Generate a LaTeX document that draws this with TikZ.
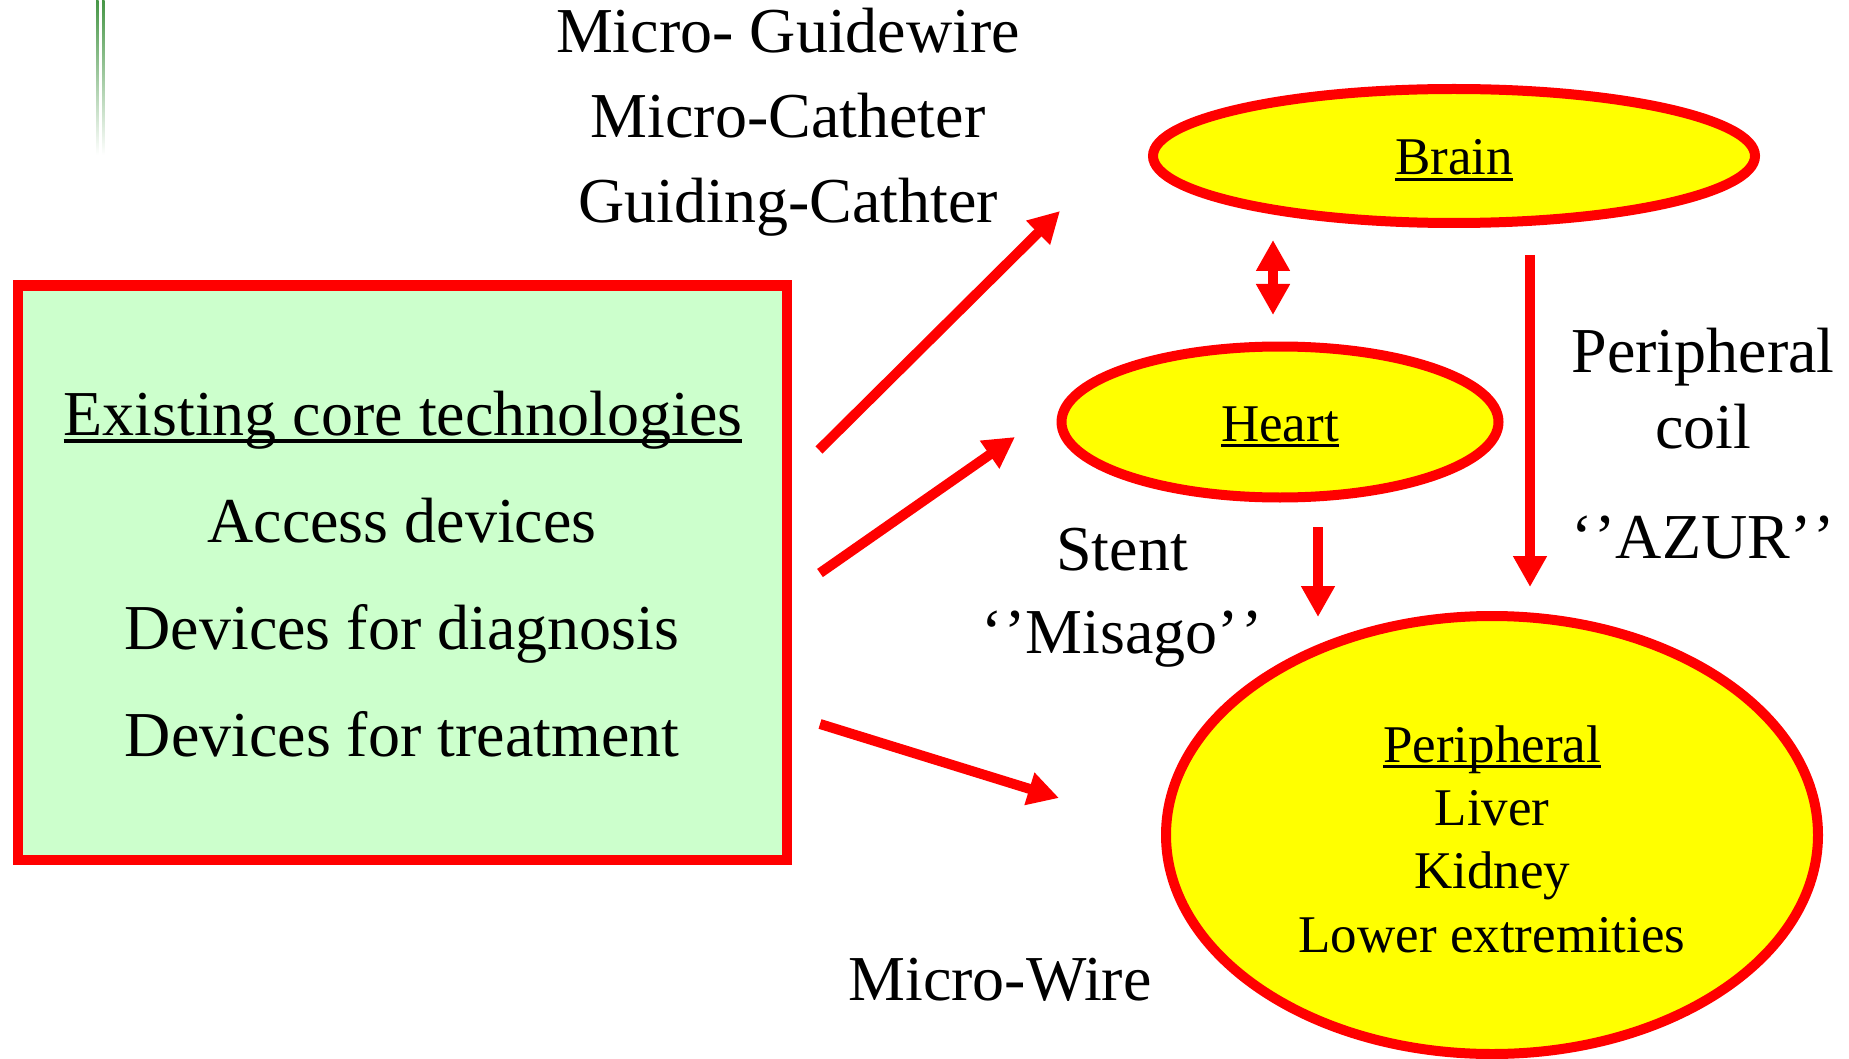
\documentclass[tikz,border=0pt]{standalone}
\usepackage{fontspec}
\setmainfont{Liberation Serif}
\usetikzlibrary{arrows.meta,shapes.geometric}
\definecolor{rd}{RGB}{255,0,0}
\definecolor{yl}{RGB}{255,255,0}
\definecolor{pg}{RGB}{204,255,204}
\definecolor{lg}{RGB}{70,150,70}
\newcommand\ulx[1]{\setbox0\hbox{#1}\rlap{\rule[-0.12em]{\wd0}{0.055em}}\box0}
\newcommand\qo{‘\kern0.03em’}
\newcommand\qc{’\kern0.03em’}
\begin{document}
\begin{tikzpicture}[x=1pt,y=-1pt,
  every node/.style={inner sep=0pt, outer sep=0pt},
  big/.style={font=\fontsize{64}{77}\selectfont, anchor=base},
  small/.style={font=\fontsize{53}{64}\selectfont, anchor=base},
  organ/.style={ellipse, draw=rd, fill=yl, line width=10pt, inner sep=0pt},
  corebox/.style={rectangle, draw=rd, fill=pg, line width=10pt},
  arr/.style={draw=rd, line width=10pt, -{Triangle[length=31pt,width=32pt]}},
  darr/.style={draw=rd, line width=10pt, {Triangle[length=31pt,width=32pt]}-{Triangle[length=31pt,width=32pt]}},
]
\useasboundingbox (0,0) rectangle (1849,1059);
\fill[white] (0,0) rectangle (1849,1059);
% decorative green lines
\shade[top color=lg, bottom color=white] (96,0) rectangle (98.5,155);
\shade[top color=lg, bottom color=white] (102,0) rectangle (104.5,155);

% core box
\node[corebox, minimum width=769pt, minimum height=574pt] (core) at (402,572.5) {};
\node[big] (t1) at (403,435) {\ulx{Existing core technologies}};
\node[big] (t2) at (402,542) {Access devices};
\node[big] (t3) at (402,649) {Devices for diagnosis};
\node[big] (t4) at (402,756) {Devices for treatment};

% top labels
\node[big] (g1) at (788,53) {Micro- Guidewire};
\node[big] (g2) at (788,138) {Micro-Catheter};
\node[big] (g3) at (788,223) {Guiding-Cathter};

% ellipses
\node[organ, minimum width=602pt, minimum height=134pt] (brain) at (1454,156) {};
\node[small] (brainlbl) at (1454,175) {\ulx{Brain}};
\node[organ, minimum width=437pt, minimum height=151pt] (heart) at (1280,422) {};
\node[small] (heartlbl) at (1280,441) {\ulx{Heart}};
\node[organ, minimum width=652pt, minimum height=438pt] (periph) at (1492,835) {};
\node[small] (p1) at (1492,762) {\ulx{Peripheral}};
\node[small] (p2) at (1492,825) {Liver};
\node[small] (p3) at (1492,888) {Kidney};
\node[small] (p4) at (1492,952) {Lower extremities};

% side labels
\node[big] (c1) at (1703,372) {Peripheral};
\node[big] (c2) at (1703,448) {coil};
\node[big] (c3) at (1703,558) {\qo AZUR\qc};
\node[big] (s1) at (1122,570) {Stent};
\node[big] (s2) at (1122,653) {\qo Misago\qc};
\node[big] (mw) at (1000,1000) {Micro-Wire};

% arrow end points
\coordinate (a1s) at (819,450);
\coordinate (a1e) at (1060,211);
\coordinate (a2s) at (820,573);
\coordinate (a2e) at (1015,437);
\coordinate (a3s) at (820,724);
\coordinate (a3e) at (1059,798);
\coordinate (ds) at (1273,240);
\coordinate (de) at (1273,315);
\coordinate (hs) at (1318,527);
\coordinate (he) at (1318,617);
\coordinate (bs) at (1530,255);
\coordinate (be) at (1530,587);

\draw[arr] (a1s) -- (a1e);
\draw[arr] (a2s) -- (a2e);
\draw[arr] (a3s) -- (a3e);
\draw[darr] (ds) -- (de);
\draw[arr] (hs) -- (he);
\draw[arr] (bs) -- (be);
\end{tikzpicture}
\end{document}
